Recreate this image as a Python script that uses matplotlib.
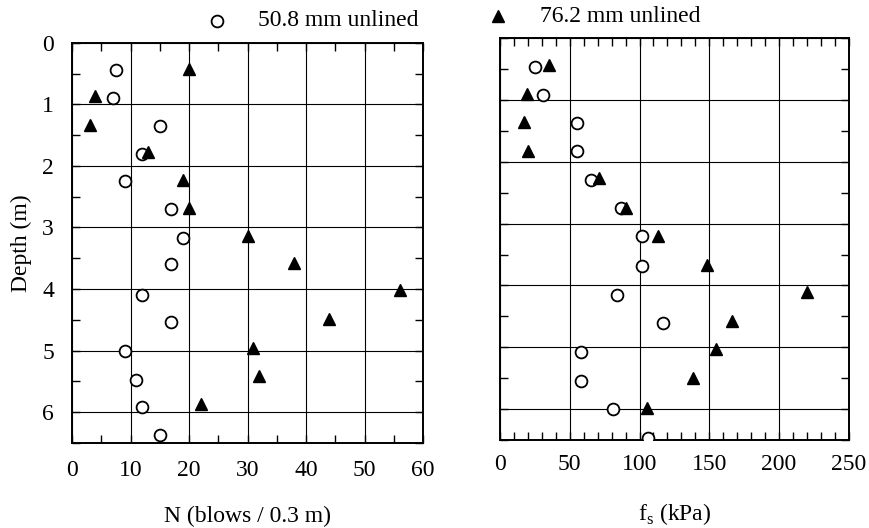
import matplotlib
matplotlib.use('Agg')
import matplotlib.pyplot as plt
from matplotlib.lines import Line2D
from matplotlib.ticker import MultipleLocator

plt.rcParams['font.family'] = ['Liberation Serif', 'DejaVu Serif']
plt.rcParams['mathtext.fontset'] = 'custom'
plt.rcParams['mathtext.rm'] = 'Liberation Serif'

# ---- data: left panel (SPT N) ----
depth_n_508 = [0.45, 0.9, 1.35, 1.8, 2.25, 2.7, 3.17, 3.6, 4.1, 4.53, 5.0, 5.47, 5.92, 6.37]
n_508 = [7.5, 7, 15, 12, 9, 17, 19, 17, 12, 17, 9, 11, 12, 15]
depth_n_762 = [0.42, 0.87, 1.33, 1.78, 2.23, 2.68, 3.14, 3.58, 4.02, 4.48, 4.95, 5.42, 5.87]
n_762 = [20, 4, 3, 13, 19, 20, 30, 38, 56, 44, 31, 32, 22]

# ---- data: right panel (fs) ----
depth_f_508 = [0.47, 0.92, 1.37, 1.83, 2.29, 2.75, 3.2, 3.68, 4.15, 4.6, 5.07, 5.55, 6.0, 6.46]
fs_508 = [25, 31, 55, 55, 65, 87, 102, 102, 84, 117, 58, 58, 81, 106]
depth_f_762 = [0.44, 0.9, 1.36, 1.83, 2.27, 2.75, 3.2, 3.67, 4.1, 4.57, 5.03, 5.5, 5.98]
fs_762 = [35, 19, 17, 20, 71, 90, 113, 148, 220, 166, 155, 138, 105]

labels = ['50.8 mm unlined', '76.2 mm unlined']
n_ticks = [0, 10, 20, 30, 40, 50, 60]
fs_ticks = [0, 50, 100, 150, 200, 250]
depth_ticks = [0, 1, 2, 3, 4, 5, 6]

FS = 17

fig = plt.figure(figsize=(8.7, 5.28), dpi=100)
ax1 = fig.add_axes([0.0828, 0.161, 0.4034, 0.758])
ax2 = fig.add_axes([0.5747, 0.1667, 0.401, 0.761])

circ_kw = dict(marker='o', markersize=8.5, markerfacecolor='white',
               markeredgecolor='black', markeredgewidth=1.3, linestyle='none', zorder=5)
tri_kw = dict(marker='^', markersize=9, markerfacecolor='black',
              markeredgecolor='black', linestyle='none', zorder=6)

ax1.plot(n_508, depth_n_508, **circ_kw)
ax1.plot(n_762, depth_n_762, **tri_kw)
ax2.plot(fs_508, depth_f_508, **circ_kw)
ax2.plot(fs_762, depth_f_762, **tri_kw)

for ax in (ax1, ax2):
    ax.set_ylim(6.5, 0)
    ax.yaxis.set_major_locator(MultipleLocator(1))
    ax.yaxis.set_minor_locator(MultipleLocator(0.5))
    ax.grid(which='major', color='black', linewidth=0.8)
    ax.set_axisbelow(True)
    for s in ax.spines.values():
        s.set_linewidth(1.4)
    ax.tick_params(which='both', direction='in', top=True, right=True,
                   length=6, width=1.0, labelsize=FS)

ax1.set_xlim(0, 60)
ax1.set_xticks(n_ticks)
ax1.xaxis.set_minor_locator(MultipleLocator(5))
ax1.set_yticks(depth_ticks)
ax1.tick_params(axis='x', pad=12)
ax1.tick_params(axis='y', pad=13)
ax1.set_xlabel('N (blows / 0.3 m)', fontsize=FS, labelpad=18)
ax1.set_ylabel('Depth (m)', fontsize=FS, labelpad=7)

ax2.set_xlim(0, 250)
ax2.set_xticks(fs_ticks)
ax2.xaxis.set_minor_locator(MultipleLocator(10))
ax2.set_yticks(depth_ticks)
ax2.tick_params(axis='y', labelleft=False)
ax2.tick_params(axis='x', pad=10)
ax2.set_xlabel('f$_\\mathregular{s}$ (kPa)', fontsize=FS, labelpad=19)

# legend (manual, in figure pixels)
W, H = 870, 528
fig.add_artist(Line2D([217 / W], [1 - 21 / H], transform=fig.transFigure, **circ_kw))
fig.text(258 / W, 1 - 20 / H, labels[0], fontsize=FS, va='center', ha='left')
fig.add_artist(Line2D([498 / W], [1 - 16 / H], transform=fig.transFigure,
                      **dict(tri_kw, markersize=8)))
fig.text(540 / W, 1 - 16 / H, labels[1], fontsize=FS, va='center', ha='left')

fig.savefig('out.png', dpi=100)
